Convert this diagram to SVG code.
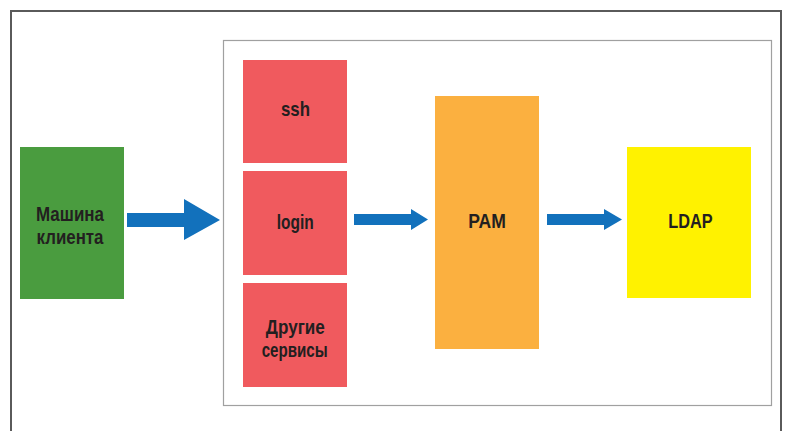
<svg xmlns="http://www.w3.org/2000/svg" width="787" height="431" viewBox="0 0 787 431">
<style>
.lbl{font-family:"Liberation Sans",Arial,sans-serif;font-weight:bold;font-size:21px;fill:#231f20;text-anchor:middle}
.arrow{fill:#1271bc}
</style>
<rect width="787" height="431" fill="#ffffff"/>
<rect x="11" y="11" width="770" height="440" fill="none" stroke="#5a5a5a" stroke-width="2"/>
<rect x="223.5" y="40.5" width="548" height="365" fill="none" stroke="#a0a0a0" stroke-width="1.2"/>
<g id="client">
<rect x="20" y="147" width="104" height="152" fill="#4a9c3f"/>
<text class="lbl" x="70" y="221" textLength="68" lengthAdjust="spacingAndGlyphs">Машина</text>
<text class="lbl" x="70" y="244" textLength="67" lengthAdjust="spacingAndGlyphs">клиента</text>
</g>
<g id="ssh">
<rect x="243" y="60" width="104" height="103" fill="#f05a5e"/>
<text class="lbl" x="295.5" y="116" textLength="29" lengthAdjust="spacingAndGlyphs">ssh</text>
</g>
<g id="login">
<rect x="243" y="171" width="104" height="104" fill="#f05a5e"/>
<text class="lbl" x="295.3" y="229" textLength="37" lengthAdjust="spacingAndGlyphs">login</text>
</g>
<g id="other">
<rect x="243" y="283" width="104" height="104" fill="#f05a5e"/>
<text class="lbl" x="295.3" y="334" textLength="59" lengthAdjust="spacingAndGlyphs">Другие</text>
<text class="lbl" x="294.7" y="357" textLength="66" lengthAdjust="spacingAndGlyphs">сервисы</text>
</g>
<g id="pam">
<rect x="435" y="96" width="104" height="253" fill="#fbb040"/>
<text class="lbl" x="487" y="228.3" textLength="37.7" lengthAdjust="spacingAndGlyphs">PAM</text>
</g>
<g id="ldap">
<rect x="627" y="147" width="124" height="151" fill="#fff200"/>
<text class="lbl" x="690.5" y="228.3" textLength="44.4" lengthAdjust="spacingAndGlyphs">LDAP</text>
</g>
<g id="connectors">
<polygon class="arrow" points="127,213 184,213 184,199 220,220 184,240 184,227 127,227"/>
<polygon class="arrow" points="354,214 411,214 411,209 428,219.5 411,230 411,225 354,225"/>
<polygon class="arrow" points="547,214 604,214 604,209 622,219.5 604,230 604,225 547,225"/>
</g>
</svg>
